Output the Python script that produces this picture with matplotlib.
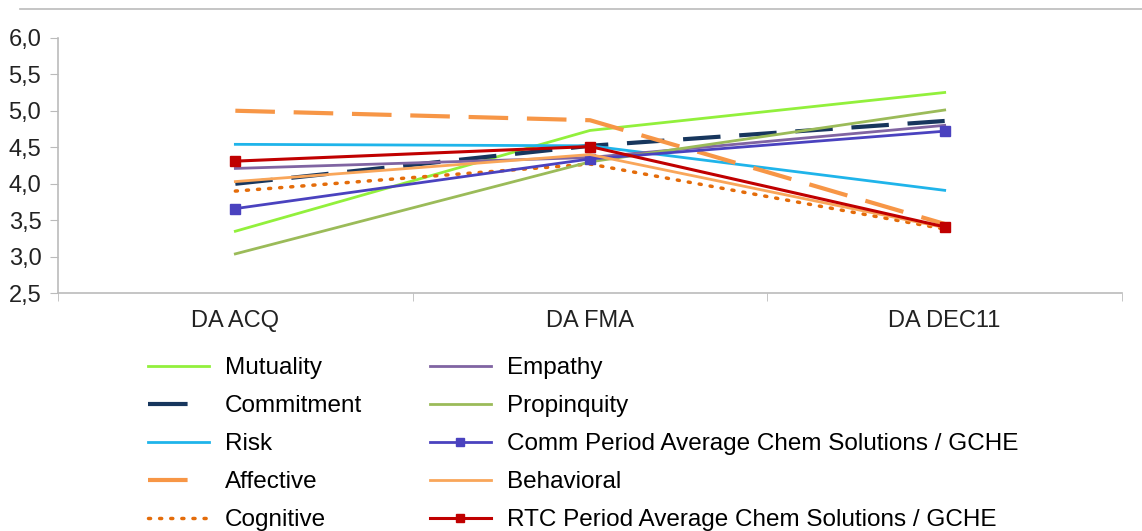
import matplotlib
matplotlib.use('Agg')
import matplotlib.pyplot as plt
from matplotlib.lines import Line2D
from matplotlib.ticker import FuncFormatter

plt.rcParams['font.family'] = ['Liberation Sans', 'DejaVu Sans']

# 数据
categories = ['DA ACQ', 'DA FMA', 'DA DEC11']
mutuality = [3.35, 4.73, 5.25]
commitment = [4.00, 4.52, 4.86]
risk = [4.54, 4.52, 3.91]
affective = [5.00, 4.87, 3.45]
cognitive = [3.90, 4.27, 3.38]
empathy = [4.21, 4.36, 4.80]
propinquity = [3.04, 4.30, 5.01]
comm_avg = [3.66, 4.34, 4.72]
behavioral = [4.03, 4.40, 3.40]
rtc_avg = [4.31, 4.51, 3.41]

x = list(range(len(categories)))

fig = plt.figure(figsize=(11.42, 5.31), dpi=100)
ax = fig.add_axes([0.0508, 0.4476, 0.9317, 0.4814])

# 各条曲线
ax.plot(x, mutuality, color='#92f03c', lw=2.0, label='Mutuality')
ax.plot(x, commitment, color='#17365d', lw=3.0, ls=(0, (9, 4.5)), label='Commitment')
ax.plot(x, risk, color='#1fb4ea', lw=2.0, label='Risk')
ax.plot(x, affective, color='#f79646', lw=3.0, ls=(0, (9.5, 4.5)), label='Affective')
ax.plot(x, cognitive, color='#e46c0a', lw=2.5, ls=(0, (0.6, 2.6)), dash_capstyle='round',
        label='Cognitive')
ax.plot(x, empathy, color='#8064a2', lw=2.0, label='Empathy')
ax.plot(x, propinquity, color='#9bbb59', lw=2.0, label='Propinquity')
ax.plot(x, comm_avg, color='#4a42bf', lw=2.0, marker='s', ms=7,
        label='Comm Period Average Chem Solutions / GCHE')
ax.plot(x, behavioral, color='#f9a65a', lw=2.0, label='Behavioral')
ax.plot(x, rtc_avg, color='#c00000', lw=2.2, marker='s', ms=7,
        label='RTC Period Average Chem Solutions / GCHE')

# 坐标轴
ax.set_xlim(-0.5, len(categories) - 0.5)
ax.set_ylim(2.5, 6.0)
ax.set_yticks([2.5, 3.0, 3.5, 4.0, 4.5, 5.0, 5.5, 6.0])
ax.yaxis.set_major_formatter(FuncFormatter(lambda v, p: f'{v:.1f}'.replace('.', ',')))
ax.set_xticks(x)
ax.set_xticklabels(categories)
ax.set_xticks([i - 0.5 for i in range(len(categories) + 1)], minor=True)
ax.tick_params(axis='x', which='major', length=0, pad=12, labelsize=17, colors='#222222')
ax.tick_params(axis='x', which='minor', length=6, color='#bbbbbb', direction='out')
ax.tick_params(axis='y', length=6, color='#bbbbbb', labelsize=17, labelcolor='#222222', pad=6)
for s in ['top', 'right']:
    ax.spines[s].set_visible(False)
for s in ['left', 'bottom']:
    ax.spines[s].set_color('#bbbbbb')
    ax.spines[s].set_linewidth(1.2)

# 顶部的灰线
fig.add_artist(Line2D([20 / 1142, 1.0], [1 - 9 / 531, 1 - 9 / 531], color='#bbbbbb', lw=1.2))

# 图例
leg = fig.legend(loc='upper left', bbox_to_anchor=(148 / 1142, 1 - 357 / 531), ncol=2,
                 frameon=False, fontsize=17.5, handlelength=2.5, handletextpad=0.66,
                 columnspacing=2.8, labelspacing=0.66, borderpad=0, borderaxespad=0,
                 markerscale=0.8)
# 虚线图例只显示一段短划线
for h, t in zip(leg.legend_handles, leg.get_texts()):
    if t.get_text() in ('Commitment', 'Affective'):
        h.set_linestyle((0, (9.5, 20)))

plt.savefig('out.png', dpi=100)
